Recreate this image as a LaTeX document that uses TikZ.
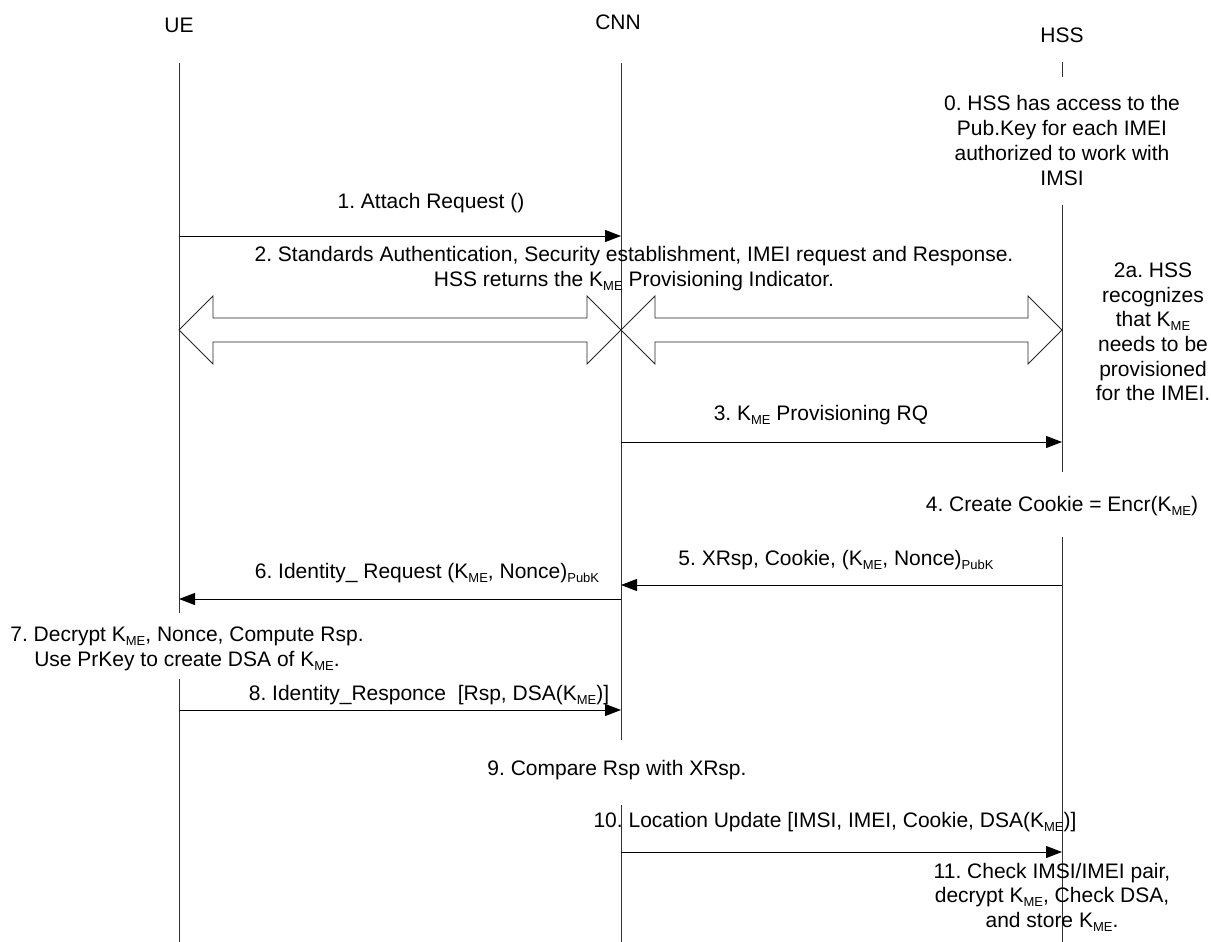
\documentclass[tikz,border=0pt]{standalone}
\usepackage{fontspec}
\setmainfont{Liberation Sans}
\usetikzlibrary{arrows.meta,calc}
% lowered small index, as in K_ME or (...)_PubK
\newcommand{\lowtx}[1]{\raisebox{-0.18em}{\fontsize{13}{13}\selectfont #1}}
\newcommand{\kme}{K\lowtx{ME}}
% hollow double-headed arrow between two tips on the same row
\newcommand{\dblarr}[2]{%
  \draw[bigarrow] (#1) -- ++(34,-34) -- ++(0,22) -- ($(#2)+(-34,-12)$)
    -- ++(0,-22) -- (#2) -- ++(-34,34) -- ++(0,-22) -- ($(#1)+(34,12)$)
    -- ++(0,22) -- cycle;}
\frenchspacing

\begin{document}
\begin{tikzpicture}[x=1pt,y=-1pt,
  lbl/.style={inner sep=0pt, align=center, font=\fontsize{21}{24.7}\selectfont},
  life/.style={line width=1pt, draw=black!80},
  msg/.style={line width=1pt, draw=black, -{Triangle[length=16pt,width=12pt]}},
  bigarrow/.style={line width=0.9pt, draw=black!85, line join=miter}]
\useasboundingbox (0,0) rectangle (1211,942);

% participants
\node[lbl] (ue)  at (179,25)  {UE};
\node[lbl] (cnn) at (618,22)  {CNN};
\node[lbl] (hss) at (1062,35) {HSS};

% lifeline end points
\coordinate (ue-top)  at (179,63);
\coordinate (ue-a)    at (179,613);
\coordinate (ue-b)    at (179,679);
\coordinate (ue-bot)  at (179,942);
\coordinate (cnn-top) at (621,63);
\coordinate (cnn-a)   at (621,740);
\coordinate (cnn-b)   at (621,805);
\coordinate (cnn-bot) at (621,942);
\coordinate (hss-top) at (1062,62);
\coordinate (hss-a)   at (1062,77);
\coordinate (hss-b)   at (1062,205);
\coordinate (hss-c)   at (1062,472);
\coordinate (hss-d)   at (1062,537);
\coordinate (hss-bot) at (1062,942);

% lifelines, broken where the local notes sit
\draw[life] (ue-top) -- (ue-a);
\draw[life] (ue-b) -- (ue-bot);
\draw[life] (cnn-top) -- (cnn-a);
\draw[life] (cnn-b) -- (cnn-bot);
\draw[life] (hss-top) -- (hss-a);
\draw[life] (hss-b) -- (hss-c);
\draw[life] (hss-d) -- (hss-bot);

% step 2: two-way exchanges
\coordinate (d-ue)  at (ue-top |- 0,330);
\coordinate (d-cnn) at (cnn-top |- 0,330);
\coordinate (d-hss) at (hss-top |- 0,330);
\dblarr{d-ue}{d-cnn}
\dblarr{d-cnn}{d-hss}

% messages
\draw[msg] (ue-top |- 0,236)  -- (cnn-top |- 0,236);
\draw[msg] (cnn-top |- 0,442) -- (hss-top |- 0,442);
\draw[msg] (hss-top |- 0,585) -- (cnn-top |- 0,585);
\draw[msg] (cnn-top |- 0,599) -- (ue-top |- 0,599);
\draw[msg] (ue-top |- 0,710)  -- (cnn-top |- 0,710);
\draw[msg] (cnn-top |- 0,852) -- (hss-top |- 0,852);

% labels and notes
\node[lbl] (t0) at (1062,140.5) {0. HSS has access to the\\Pub.Key for each IMEI\\authorized to work with\\IMSI};
\node[lbl] (t1) at (431,203) {1. Attach Request ()};
\node[lbl] (t2) at (634,268.5) {2. Standards Authentication, Security establishment, IMEI request and Response.\\HSS returns the \kme{} Provisioning Indicator.};
\node[lbl] (t2a) at (1153,332) {2a. HSS\\recognizes\\that \kme\\needs to be\\provisioned\\for the IMEI.};
\node[lbl] (t3) at (821,415) {3. \kme{} Provisioning RQ};
\node[lbl] (t4) at (1062,506) {4. Create Cookie = Encr(\kme)};
\node[lbl] (t5) at (836,560) {5. XRsp, Cookie, (\kme, Nonce)\lowtx{PubK}};
\node[lbl] (t6) at (427,573) {6. Identity\_ Request (\kme, Nonce)\lowtx{PubK}};
\node[lbl] (t7) at (187,649) {7. Decrypt \kme, Nonce, Compute Rsp.\\Use PrKey to create DSA of \kme.};
\node[lbl] (t8) at (429,695) {8. Identity\_Responce\ \ [Rsp, DSA(\kme)]};
\node[lbl] (t9) at (617,770) {9. Compare Rsp with XRsp.};
\node[lbl] (t10) at (835,822) {10. Location Update [IMSI, IMEI, Cookie, DSA(\kme)]};
\node[lbl] (t11) at (1052,897) {11. Check IMSI/IMEI pair,\\decrypt \kme, Check DSA,\\and store \kme.};
\end{tikzpicture}
\end{document}
